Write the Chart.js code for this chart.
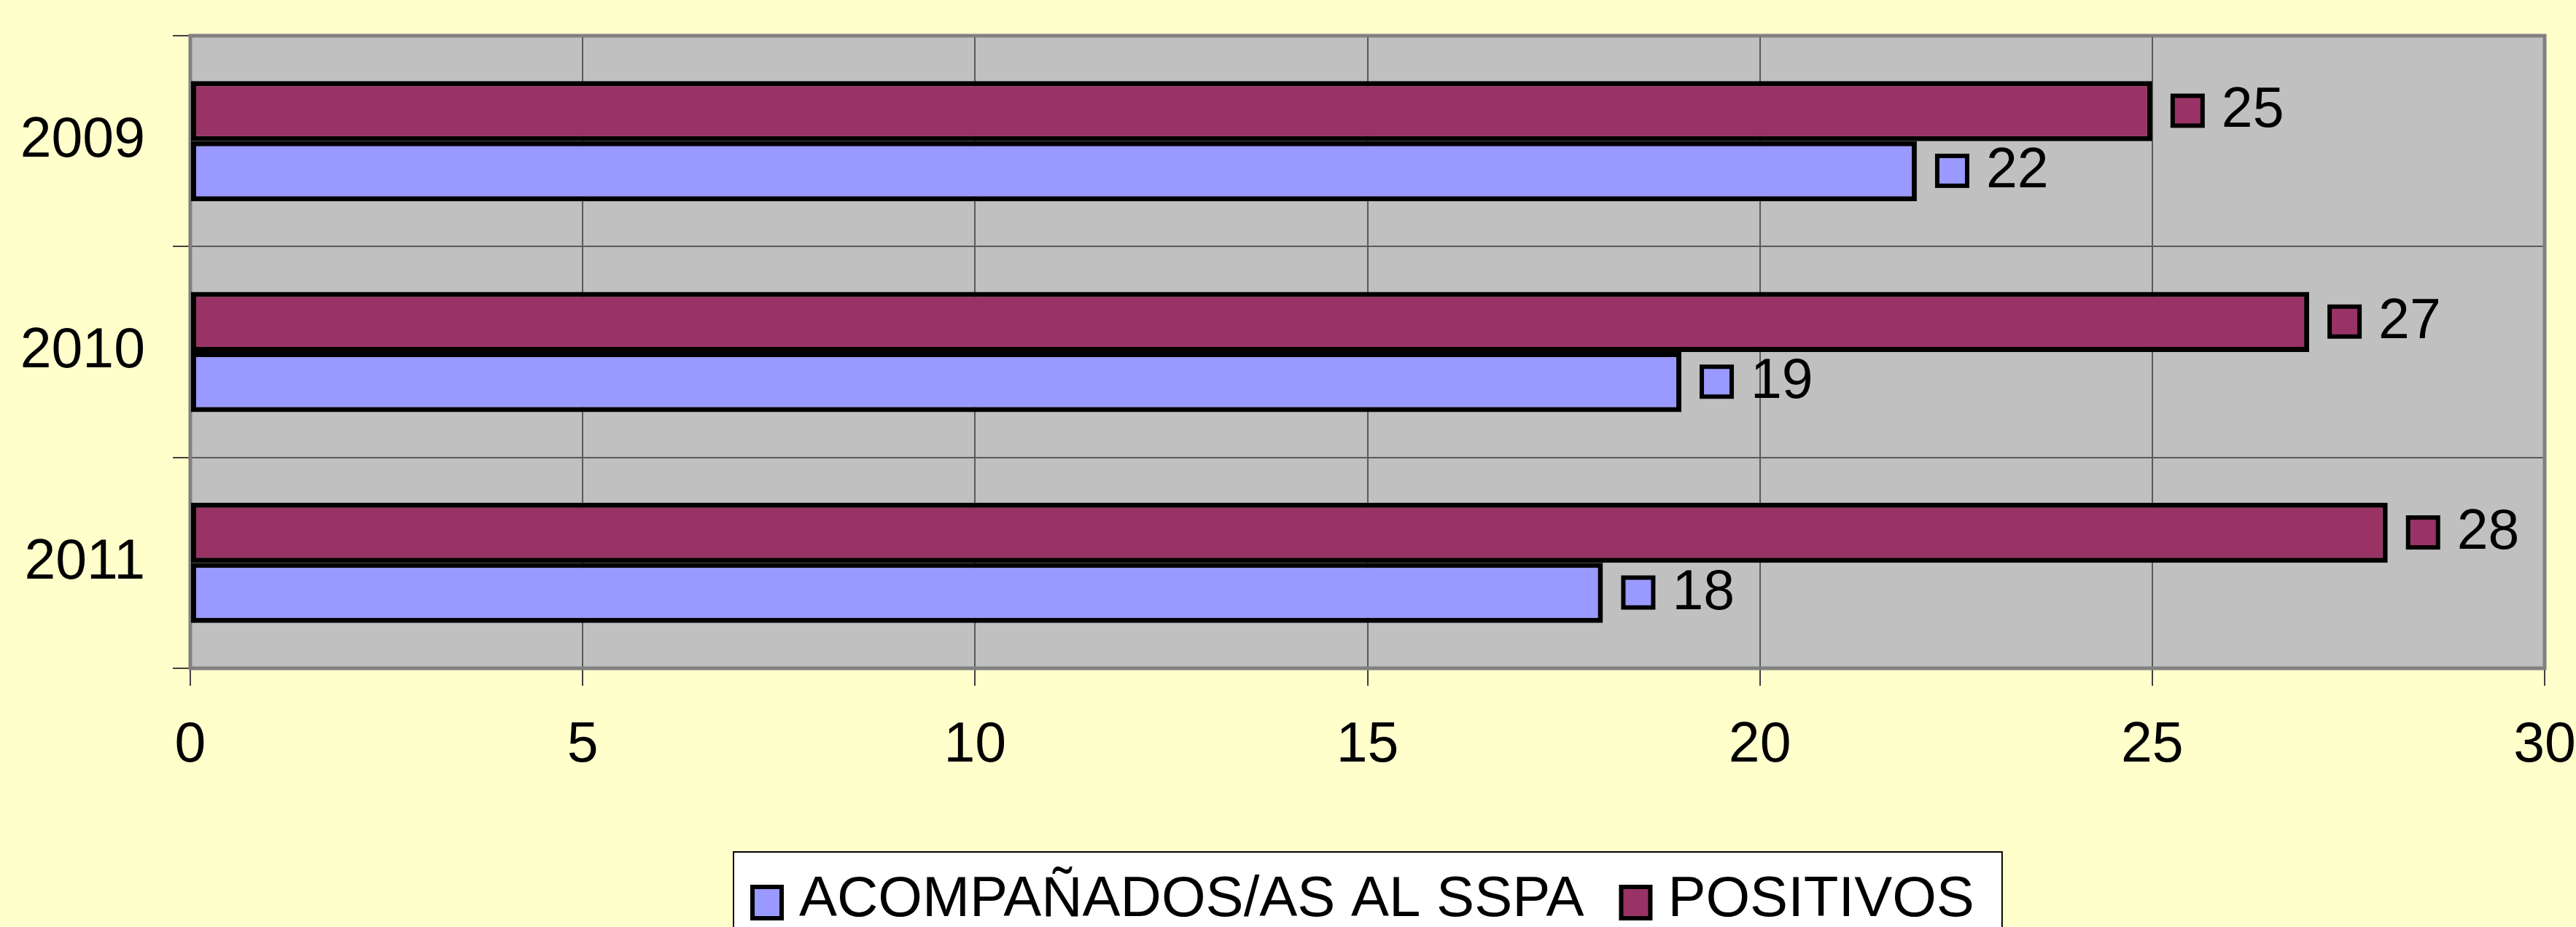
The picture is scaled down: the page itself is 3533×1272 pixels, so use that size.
<!DOCTYPE html>
<html>
<head>
<meta charset="utf-8">
<title>Acompañados / Positivos</title>
<script src="https://cdn.jsdelivr.net/npm/chart.js@4.4.1/dist/chart.umd.min.js"></script>
<style>
    html, body { margin: 0; padding: 0; background: #FFFFCC; }
    canvas { display: block; }
</style>
</head>
<body>
<canvas id="barChart" width="3533" height="1272"></canvas>
<script>
// datos del gráfico
const years = ['2009', '2010', '2011'];
const acompanados = [22, 19, 18];
const positivos = [25, 27, 28];
const serieNames = ['ACOMPAÑADOS/AS AL SSPA', 'POSITIVOS'];
const xMin = 0, xMax = 30, xStep = 5;

const FONT = '"Liberation Sans", Arial, sans-serif';
const COLOR_ACOMP = '#9999FF';
const COLOR_POSIT = '#993366';

// fondo amarillo y zona gris del gráfico
const fondo = {
    id: 'fondo',
    beforeDraw(chart) {
        const { ctx, chartArea: a } = chart;
        ctx.save();
        ctx.fillStyle = '#FFFFCC';
        ctx.fillRect(0, 0, chart.width, chart.height);
        ctx.fillStyle = '#C0C0C0';
        ctx.fillRect(a.left, a.top, a.right - a.left, a.bottom - a.top);
        ctx.restore();
    },
    beforeDatasetsDraw(chart) {
        const { ctx, chartArea: a } = chart;
        ctx.save();
        ctx.strokeStyle = '#808080';
        ctx.lineWidth = 5;
        ctx.strokeRect(a.left, a.top, a.right - a.left, a.bottom - a.top);
        ctx.restore();
    }
};

// etiquetas de valor con su cuadradito de color
const etiquetas = {
    id: 'etiquetas',
    afterDatasetsDraw(chart) {
        const ctx = chart.ctx;
        ctx.save();
        chart.data.datasets.forEach((ds, i) => {
            chart.getDatasetMeta(i).data.forEach((bar, j) => {
                const x = bar.x + 28;
                const y = bar.y;
                ctx.fillStyle = ds.backgroundColor;
                ctx.fillRect(x, y - 21, 41, 41);
                ctx.lineWidth = 6;
                ctx.strokeStyle = '#000';
                ctx.strokeRect(x, y - 21, 41, 41);
                ctx.fillStyle = '#000';
                ctx.font = '77px ' + FONT;
                ctx.textAlign = 'left';
                ctx.textBaseline = 'alphabetic';
                ctx.fillText(ds.data[j], bar.x + 95, y + 22);
            });
        });
        ctx.restore();
    }
};

// leyenda con caja blanca debajo
const leyenda = {
    id: 'leyenda',
    afterDraw(chart) {
        const { ctx, chartArea: a } = chart;
        const order = [1, 0];  // ACOMPAÑADOS primero, luego POSITIVOS
        ctx.save();
        ctx.font = '78px ' + FONT;
        const key = 44, gapKey = 24, gapItem = 47, padL = 26, padR = 34;
        const widths = order.map(i => ctx.measureText(chart.data.datasets[i].label).width);
        const total = padL + widths.reduce((s, w) => s + key + gapKey + w, 0) + gapItem + padR;
        const left = Math.round((a.left + a.right) / 2 - total / 2);
        const top = 1169;

        ctx.fillStyle = '#FFFFFF';
        ctx.fillRect(left, top, total, chart.height - top + 10);
        ctx.strokeStyle = '#000';
        ctx.lineWidth = 2;
        ctx.strokeRect(left, top, total, chart.height - top + 10);

        let x = left + padL;
        order.forEach((i, k) => {
            const ds = chart.data.datasets[i];
            ctx.fillStyle = ds.backgroundColor;
            ctx.fillRect(x, 1217, key - 4, 43);
            ctx.lineWidth = 6;
            ctx.strokeStyle = '#000';
            ctx.strokeRect(x, 1217, key - 4, 43);
            ctx.fillStyle = '#000';
            ctx.textBaseline = 'alphabetic';
            ctx.fillText(ds.label, x + key + gapKey - 4, 1257);
            x += key + gapKey + widths[k] + gapItem;
        });
        ctx.restore();
    }
};

new Chart(document.getElementById('barChart'), {
    type: 'bar',
    data: {
        labels: years,
        datasets: [
            {
                label: serieNames[1],
                data: positivos,
                backgroundColor: COLOR_POSIT,
                borderColor: '#000',
                borderWidth: 7,
                borderSkipped: false,
                categoryPercentage: 0.57,
                barPercentage: 1.0
            },
            {
                label: serieNames[0],
                data: acompanados,
                backgroundColor: COLOR_ACOMP,
                borderColor: '#000',
                borderWidth: 7,
                borderSkipped: false,
                categoryPercentage: 0.57,
                barPercentage: 1.0
            }
        ]
    },
    options: {
        indexAxis: 'y',
        responsive: false,
        animation: false,
        devicePixelRatio: 1,
        layout: { padding: { top: 49, right: 43, left: 0, bottom: 0 } },
        plugins: {
            legend: { display: false },
            tooltip: { enabled: false }
        },
        scales: {
            x: {
                type: 'linear',
                min: xMin,
                max: xMax,
                ticks: {
                    stepSize: xStep,
                    color: '#000',
                    font: { family: FONT, size: 77 },
                    padding: 37
                },
                grid: {
                    color: '#5A5A5A',
                    lineWidth: 2,
                    tickColor: '#404040',
                    tickLength: 24
                },
                border: { display: false },
                afterFit: s => { s.height = 355; s.paddingLeft = 0; s.paddingRight = 0; }
            },
            y: {
                ticks: {
                    color: '#000',
                    font: { family: FONT, size: 77 },
                    padding: 38
                },
                grid: {
                    offset: true,
                    color: '#5A5A5A',
                    lineWidth: 2,
                    tickColor: '#404040',
                    tickLength: 24
                },
                border: { display: false },
                afterFit: s => { s.width = 261; s.paddingTop = 0; s.paddingBottom = 0; }
            }
        }
    },
    plugins: [fondo, etiquetas, leyenda]
});
</script>
</body>
</html>
